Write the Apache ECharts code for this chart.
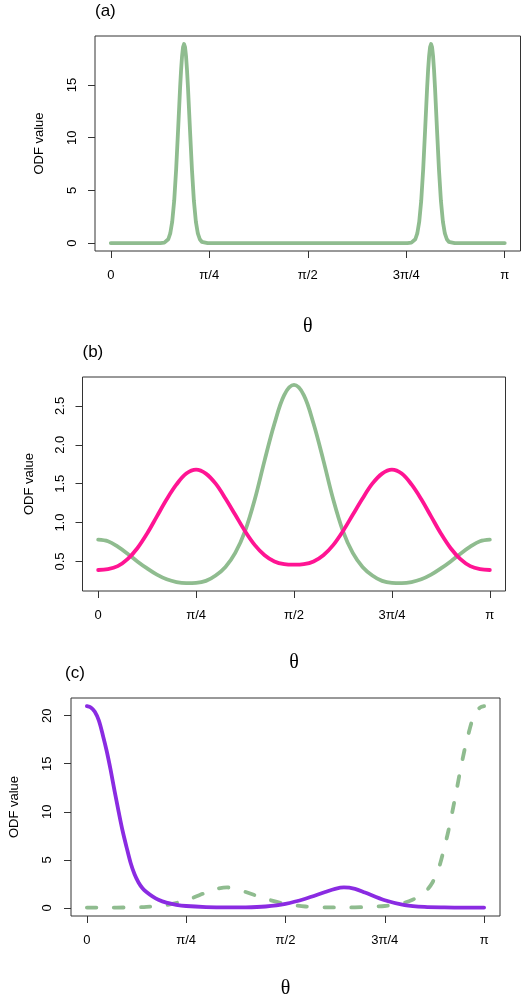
<!DOCTYPE html>
<html><head><meta charset="utf-8">
<script src="https://cdn.jsdelivr.net/npm/echarts@6/dist/echarts.min.js"></script>
<style>html,body{margin:0;padding:0;background:#fff}#c{width:522px;height:1000px}</style>
</head><body><div id="c"></div>
<script>
// x positions are in units of pi
const xTickValues = [0, 0.25, 0.5, 0.75, 1];
const xTickLabels = ['0', 'π/4', 'π/2', '3π/4', 'π'];
const yTicksA = [0, 5, 10, 15];
const yTicksB = [0.5, 1.0, 1.5, 2.0, 2.5];
const yTicksC = [0, 5, 10, 15, 20];
const panelTitles = ['(a)', '(b)', '(c)'];

// Panel (a)
const thetaA = [0, 0.126, 0.136, 0.141, 0.146, 0.151, 0.156, 0.161, 0.166, 0.171, 0.176, 0.1785, 0.181, 0.1835, 0.186, 0.1885, 0.191, 0.1935, 0.196, 0.201, 0.206, 0.211, 0.216, 0.221, 0.226, 0.231, 0.236, 0.246,
  0.753, 0.763, 0.768, 0.773, 0.778, 0.783, 0.788, 0.793, 0.798, 0.803, 0.8055, 0.808, 0.8105, 0.813, 0.8155, 0.818, 0.8205, 0.823, 0.828, 0.833, 0.838, 0.843, 0.848, 0.853, 0.858, 0.863, 0.873, 1];
const odfA = [0, 0, 0.04, 0.12, 0.36, 0.91, 2.03, 4.01, 7.01, 10.82, 14.75, 16.44, 17.77, 18.61, 18.9, 18.61, 17.77, 16.44, 14.75, 10.82, 7.01, 4.01, 2.03, 0.91, 0.36, 0.12, 0.04, 0,
  0, 0.04, 0.12, 0.36, 0.91, 2.03, 4.01, 7.01, 10.82, 14.75, 16.44, 17.77, 18.61, 18.9, 18.61, 17.77, 16.44, 14.75, 10.82, 7.01, 4.01, 2.03, 0.91, 0.36, 0.12, 0.04, 0, 0];

// Panel (b)
const thetaB = [0, 0.025, 0.05, 0.075, 0.1, 0.125, 0.15, 0.175, 0.2, 0.225, 0.25, 0.275, 0.3, 0.325, 0.35, 0.375, 0.4, 0.425, 0.45, 0.475, 0.5,
  0.525, 0.55, 0.575, 0.6, 0.625, 0.65, 0.675, 0.7, 0.725, 0.75, 0.775, 0.8, 0.825, 0.85, 0.875, 0.9, 0.925, 0.95, 0.975, 1];
const greenB = [0.78, 0.76, 0.69, 0.60, 0.50, 0.41, 0.33, 0.27, 0.235, 0.222, 0.225, 0.25, 0.32, 0.43, 0.61, 0.89, 1.30, 1.80, 2.27, 2.64, 2.77,
  2.64, 2.27, 1.80, 1.30, 0.89, 0.61, 0.43, 0.32, 0.25, 0.225, 0.222, 0.235, 0.27, 0.33, 0.41, 0.50, 0.60, 0.69, 0.76, 0.78];
const pinkB = [0.39, 0.40, 0.44, 0.53, 0.67, 0.86, 1.08, 1.30, 1.49, 1.63, 1.68, 1.63, 1.50, 1.31, 1.10, 0.89, 0.71, 0.58, 0.50, 0.465, 0.458,
  0.465, 0.50, 0.58, 0.71, 0.89, 1.10, 1.31, 1.50, 1.63, 1.68, 1.63, 1.49, 1.30, 1.08, 0.86, 0.67, 0.53, 0.44, 0.40, 0.39];

// Panel (c)
const thetaC1 = [0, 0.01, 0.02, 0.03, 0.04, 0.05, 0.06, 0.07, 0.08, 0.09, 0.1, 0.11, 0.12, 0.13, 0.14, 0.15, 0.165, 0.18, 0.2, 0.225, 0.25, 0.3, 0.35, 0.4, 0.45, 0.5, 0.55, 0.6, 0.625, 0.647, 0.675, 0.7, 0.75, 0.8, 0.85, 0.9, 0.95, 1];
const purpleC = [21.0, 20.85, 20.4, 19.5, 18.0, 16.3, 14.3, 12.1, 10.0, 8.0, 6.3, 4.7, 3.5, 2.65, 2.05, 1.65, 1.2, 0.85, 0.55, 0.33, 0.2, 0.09, 0.05, 0.06, 0.15, 0.42, 0.95, 1.65, 1.98, 2.13, 1.98, 1.6, 0.8, 0.3, 0.1, 0.05, 0.04, 0.04];
const thetaC2 = [0, 0.05, 0.1, 0.15, 0.2, 0.25, 0.3, 0.325, 0.353, 0.375, 0.4, 0.45, 0.5, 0.55, 0.6, 0.65, 0.7, 0.75, 0.775, 0.8, 0.82, 0.835, 0.85, 0.86, 0.87, 0.88, 0.89, 0.9, 0.91, 0.92, 0.93, 0.94, 0.95, 0.96, 0.97, 0.98, 0.99, 1];
const greenC = [0.04, 0.04, 0.05, 0.1, 0.3, 0.8, 1.6, 1.98, 2.13, 1.98, 1.65, 0.95, 0.42, 0.15, 0.06, 0.05, 0.09, 0.2, 0.33, 0.55, 0.85, 1.2, 1.65, 2.05, 2.65, 3.5, 4.7, 6.3, 8.0, 10.0, 12.1, 14.3, 16.3, 18.0, 19.5, 20.4, 20.85, 21.0];

const GREEN = '#8FBC8F', PINK = '#FF1493', PURPLE = '#8A2BE2';
const SANS = '"Liberation Sans", Arial, Helvetica, sans-serif';
const SERIF = '"Liberation Serif", "DejaVu Serif", serif';
const AXC = '#333';

function pairs(xs, ys) { return xs.map((x, i) => [x, ys[i]]); }

const grids = [
  { left: 95, top: 36, width: 425.5, height: 215 },
  { left: 82.5, top: 377, width: 423, height: 214 },
  { left: 65, top: 698, width: 435, height: 220 }
].map(g => Object.assign(g, { show: true, borderColor: AXC, borderWidth: 1, backgroundColor: 'transparent', containLabel: false }));

function xAxis(i, nameGap) {
  return {
    gridIndex: i, type: 'value', min: -0.04, max: 1.04,
    name: 'θ', nameLocation: 'middle', nameGap: nameGap,
    nameTextStyle: { fontFamily: SERIF, fontSize: 20, color: '#000' },
    axisLine: { show: false, onZero: false },
    axisTick: { show: true, inside: false, length: 7, lineStyle: { color: AXC, width: 1 }, customValues: xTickValues },
    axisLabel: { show: true, margin: 18, fontFamily: SANS, fontSize: 13, color: '#000', customValues: xTickValues,
      formatter: v => xTickLabels[Math.round(v * 4)] },
    splitLine: { show: false }
  };
}
function yAxis(i, min, max, ticks, digits, margin, nameGap) {
  return {
    gridIndex: i, type: 'value', min: min, max: max,
    name: 'ODF value', nameLocation: 'middle', nameGap: nameGap,
    nameTextStyle: { fontFamily: SANS, fontSize: 13, color: '#000' },
    axisLine: { show: false, onZero: false },
    axisTick: { show: true, inside: false, length: 7, lineStyle: { color: AXC, width: 1 }, customValues: ticks },
    axisLabel: { show: true, rotate: 90, margin: margin, fontFamily: SANS, fontSize: 13, color: '#000', customValues: ticks,
      formatter: v => v.toFixed(digits) },
    splitLine: { show: false }
  };
}
function line(xi, xs, ys, color, dashed, smooth) {
  return {
    type: 'line', xAxisIndex: xi, yAxisIndex: xi, data: pairs(xs, ys),
    showSymbol: false, symbol: 'none', smooth: smooth,
    lineStyle: { color: color, width: 3.8, type: dashed ? [9.5, 17.5] : 'solid', cap: 'round', join: 'round' },
    silent: true, z: 3
  };
}

const titleTops = [3, 344, 665];
const titleLefts = [95, 82.5, 65];

const option = {
  animation: false,
  backgroundColor: '#fff',
  title: panelTitles.map((t, i) => ({ text: t, left: titleLefts[i], top: titleTops[i], padding: 0,
    textStyle: { fontFamily: SANS, fontSize: 17, fontWeight: 'normal', color: '#000' } })),
  grid: grids,
  xAxis: [xAxis(0, 66), xAxis(1, 62), xAxis(2, 63)],
  yAxis: [
    yAxis(0, -0.756, 19.656, yTicksA, 0, 16, 49),
    yAxis(1, 0.12, 2.872, yTicksB, 1, 16, 47),
    yAxis(2, -0.84, 21.84, yTicksC, 0, 17, 50)
  ],
  series: [
    line(0, thetaA, odfA, GREEN, false, false),
    line(1, thetaB, greenB, GREEN, false, 0.35),
    line(1, thetaB, pinkB, PINK, false, 0.35),
    line(2, thetaC2, greenC, GREEN, true, 0.3),
    line(2, thetaC1, purpleC, PURPLE, false, 0.3)
  ]
};
const chart = echarts.init(document.getElementById('c'), null, { renderer: 'canvas' });
chart.setOption(option);
</script></body></html>
